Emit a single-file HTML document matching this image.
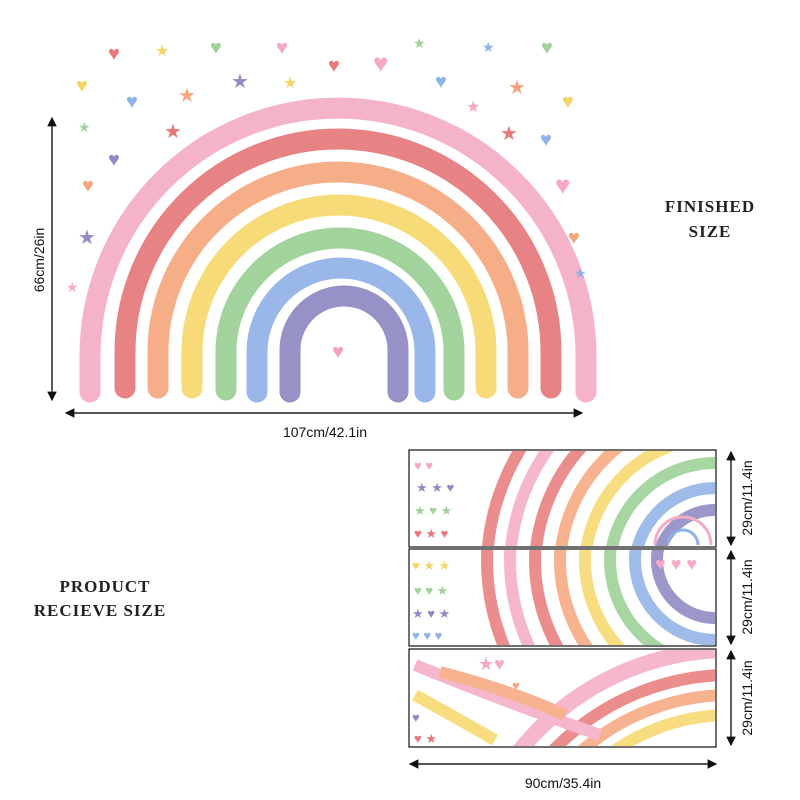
<!DOCTYPE html>
<html><head><meta charset="utf-8"><style>
html,body{margin:0;padding:0;background:#fff;width:800px;height:800px;overflow:hidden;}
svg{display:block}
</style></head><body>
<svg width="800" height="800" viewBox="0 0 800 800" xmlns="http://www.w3.org/2000/svg" font-family="Liberation Sans, sans-serif">
<defs>
<marker id="ah" markerWidth="8" markerHeight="8" refX="7" refY="4" orient="auto"><path d="M0,0 L8,4 L0,8 z" fill="#111"/></marker>
<clipPath id="c1"><rect x="410" y="451" width="305" height="95"/></clipPath>
<clipPath id="c2"><rect x="410" y="550" width="305" height="95"/></clipPath>
<clipPath id="c3"><rect x="410" y="650" width="305" height="96"/></clipPath>
</defs>
<g fill="none" stroke-linecap="round" stroke-width="21" opacity="0.9">
<path d="M90,392 V356 A248,248 0 0 1 586,356 V392" stroke="#f5aac6"/>
<path d="M125,388 V352 A213,213 0 0 1 551,352 V388" stroke="#e67678"/>
<path d="M158,388 V352 A180,180 0 0 1 518,352 V388" stroke="#f6a67c"/>
<path d="M192,388 V352 A147,147 0 0 1 486,352 V388" stroke="#f7d86a"/>
<path d="M226,390 V352 A114,114 0 0 1 454,352 V390" stroke="#98cf93"/>
<path d="M257,392 V352 A84,84 0 0 1 425,352 V392" stroke="#8fb0e6"/>
<path d="M290,392 V350 A54,54 0 0 1 398,350 V392" stroke="#8b86c0"/>
</g>
<g font-size="20">
<text x="338" y="358" fill="#f4a0bf" text-anchor="middle">♥</text>
<text x="108" y="60" fill="#e8787a">♥</text><text x="155" y="56" fill="#f3d66a" font-size="16">★</text>
<text x="210" y="54" fill="#9fd39a">♥</text><text x="276" y="54" fill="#f5a9c4">♥</text>
<text x="328" y="72" fill="#e8787a">♥</text><text x="373" y="72" fill="#f5a9c4" font-size="26">♥</text>
<text x="413" y="48" fill="#9fd39a" font-size="14">★</text><text x="482" y="52" fill="#8fb1e8" font-size="14">★</text>
<text x="541" y="54" fill="#9fd39a">♥</text><text x="76" y="92" fill="#f3d66a">♥</text>
<text x="126" y="108" fill="#8fb1e8">♥</text><text x="178" y="102" fill="#f6a67c">★</text>
<text x="231" y="88" fill="#8f8cc4">★</text><text x="283" y="88" fill="#f3d66a" font-size="16">★</text>
<text x="435" y="88" fill="#8fb1e8">♥</text><text x="466" y="112" fill="#f5a9c4" font-size="16">★</text>
<text x="508" y="94" fill="#f6a67c">★</text><text x="562" y="108" fill="#f3d66a">♥</text>
<text x="78" y="132" fill="#9fd39a" font-size="14">★</text><text x="164" y="138" fill="#e8787a">★</text>
<text x="108" y="166" fill="#8f8cc4">♥</text><text x="500" y="140" fill="#e8787a">★</text>
<text x="540" y="146" fill="#8fb1e8">♥</text><text x="82" y="192" fill="#f6a67c">♥</text>
<text x="555" y="194" fill="#f5a9c4" font-size="26">♥</text><text x="78" y="244" fill="#8f8cc4">★</text>
<text x="568" y="244" fill="#f6a67c">♥</text><text x="66" y="292" fill="#f5a9c4" font-size="14">★</text>
<text x="574" y="278" fill="#8fb1e8" font-size="14">★</text>
</g>
<line x1="52" y1="120" x2="52" y2="400" stroke="#111" stroke-width="1.2" marker-end="url(#ah)"/>
<line x1="52" y1="390" x2="52" y2="118" stroke="#111" stroke-width="1.2" marker-end="url(#ah)"/>
<text transform="translate(44,260) rotate(-90)" font-size="14" text-anchor="middle" fill="#111">66cm/26in</text>
<line x1="580" y1="413" x2="66" y2="413" stroke="#111" stroke-width="1.2" marker-end="url(#ah)"/>
<line x1="70" y1="413" x2="582" y2="413" stroke="#111" stroke-width="1.2" marker-end="url(#ah)"/>
<text x="325" y="437" font-size="14" text-anchor="middle" fill="#111">107cm/42.1in</text>
<g font-family="Liberation Serif, serif" font-weight="bold" font-size="17" fill="#222" text-anchor="middle" letter-spacing="1">
<text x="710" y="212">FINISHED</text><text x="710" y="237">SIZE</text>
<text x="105" y="592">PRODUCT</text><text x="100" y="616">RECIEVE SIZE</text>
</g>
<g fill="none" stroke="#111" stroke-width="1.2">
<rect x="409" y="450" width="307" height="97"/><rect x="409" y="549" width="307" height="97"/><rect x="409" y="649" width="307" height="98"/>
</g>
<g fill="none" stroke-width="12" opacity="0.85">
<g clip-path="url(#c1)">
<circle cx="715" cy="568" r="228" stroke="#e8787a"/><circle cx="715" cy="568" r="205" stroke="#f5aac6"/>
<circle cx="715" cy="568" r="180" stroke="#e8787a"/><circle cx="715" cy="568" r="155" stroke="#f6a67c"/>
<circle cx="715" cy="568" r="130" stroke="#f7d86a"/><circle cx="715" cy="568" r="105" stroke="#98cf93"/>
<circle cx="715" cy="568" r="80" stroke="#8fb0e6"/><circle cx="715" cy="568" r="58" stroke="#8b86c0"/>
</g>
<g clip-path="url(#c2)">
<circle cx="715" cy="560" r="228" stroke="#e8787a"/><circle cx="715" cy="560" r="205" stroke="#f5aac6"/>
<circle cx="715" cy="560" r="180" stroke="#e8787a"/><circle cx="715" cy="560" r="155" stroke="#f6a67c"/>
<circle cx="715" cy="560" r="130" stroke="#f7d86a"/><circle cx="715" cy="560" r="105" stroke="#98cf93"/>
<circle cx="715" cy="560" r="80" stroke="#8fb0e6"/><circle cx="715" cy="560" r="58" stroke="#8b86c0"/>
</g>
<g clip-path="url(#c3)">
<circle cx="730" cy="920" r="270" stroke="#f5aac6" stroke-width="16"/><circle cx="730" cy="920" r="245" stroke="#e8787a"/>
<circle cx="730" cy="920" r="225" stroke="#f6a67c"/><circle cx="730" cy="920" r="205" stroke="#f7d86a"/>
<path d="M415,665 Q500,700 600,735" stroke="#f5aac6"/><path d="M440,672 Q510,690 565,715" stroke="#f6a67c"/>
<path d="M415,695 Q460,720 495,740" stroke="#f7d86a"/>
</g>
</g>
<g fill="none" stroke="#f5aac6" stroke-width="3"><path d="M655,545 A28,28 0 0 1 711,545"/></g>
<g fill="none" stroke="#8fb0e6" stroke-width="3"><path d="M668,545 A15,15 0 0 1 698,545"/></g>
<g font-size="13">
<text x="414" y="470" fill="#f5a9c4">♥ ♥</text><text x="416" y="492" fill="#8f8cc4">★ ★ ♥</text>
<text x="414" y="515" fill="#9fd39a">★ ♥ ★</text><text x="414" y="538" fill="#e8787a">♥ ★ ♥</text>
<text x="412" y="570" fill="#f3d66a">♥ ★ ★</text><text x="414" y="595" fill="#9fd39a">♥ ♥ ★</text>
<text x="412" y="618" fill="#8f8cc4">★ ♥ ★</text><text x="412" y="640" fill="#8fb1e8">♥ ♥ ♥</text>
<text x="655" y="570" fill="#f5a9c4" font-size="18">♥ ♥ ♥</text>
<text x="478" y="670" fill="#f5a9c4" font-size="18">★♥</text><text x="512" y="690" fill="#f6a67c">♥</text>
<text x="412" y="722" fill="#8f8cc4">♥</text><text x="414" y="743" fill="#e8787a">♥ ★</text>
</g>
<g stroke="#111" stroke-width="1.2">
<line x1="731" y1="540" x2="731" y2="452" marker-end="url(#ah)"/><line x1="731" y1="460" x2="731" y2="545" marker-end="url(#ah)"/>
<line x1="731" y1="640" x2="731" y2="551" marker-end="url(#ah)"/><line x1="731" y1="560" x2="731" y2="644" marker-end="url(#ah)"/>
<line x1="731" y1="740" x2="731" y2="651" marker-end="url(#ah)"/><line x1="731" y1="660" x2="731" y2="745" marker-end="url(#ah)"/>
<line x1="710" y1="764" x2="410" y2="764" marker-end="url(#ah)"/><line x1="415" y1="764" x2="716" y2="764" marker-end="url(#ah)"/>
</g>
<g font-size="14" fill="#111" text-anchor="middle">
<text transform="translate(752,498) rotate(-90)">29cm/11.4in</text>
<text transform="translate(752,597) rotate(-90)">29cm/11.4in</text>
<text transform="translate(752,698) rotate(-90)">29cm/11.4in</text>
<text x="563" y="788">90cm/35.4in</text>
</g>
</svg>
</body></html>
